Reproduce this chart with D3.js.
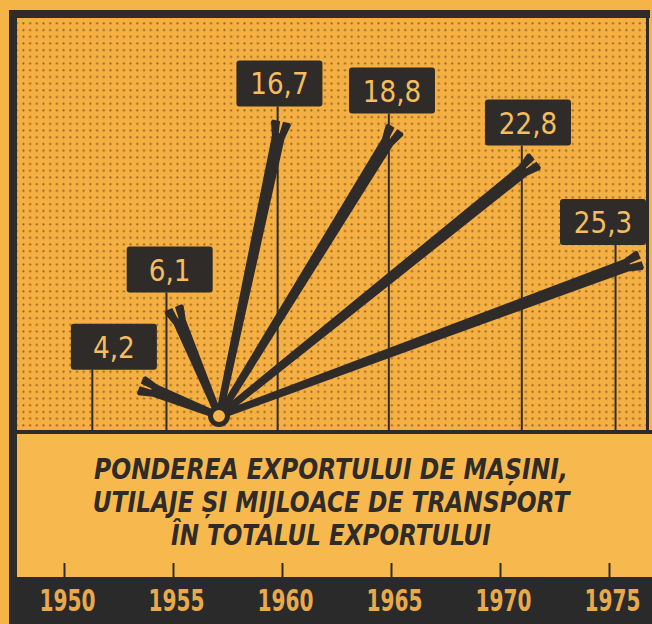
<!DOCTYPE html>
<html>
<head>
<meta charset="utf-8">
<script src="https://cdn.jsdelivr.net/npm/d3@7"></script>
<style>
  html, body { margin: 0; padding: 0; background: #f5b446; }
  svg { display: block; }
</style>
</head>
<body>
<div id="chart"></div>
<script>
// Share of machinery exports in total exports (%)
const years = [1950, 1955, 1960, 1965, 1970, 1975];
const shares = [4.2, 6.1, 16.7, 18.8, 22.8, 25.3];
const shareLabels = ["4,2", "6,1", "16,7", "18,8", "22,8", "25,3"];
// where each marker stands on the time axis, as drawn
const markYears = [1951.3, 1954.7, 1959.8, 1964.9, 1971.0, 1975.3];
// direction of each ray from the hub, degrees
const rayAngles = [158.4, 112.7, 78.0, 58.4, 38.9, 20.3];
const titleLines = [
    "PONDEREA EXPORTULUI DE MAȘINI,",
    "UTILAJE ȘI MIJLOACE DE TRANSPORT",
    "ÎN TOTALUL EXPORTULUI"
];

const W = 652, H = 624;
const dark = "#2e2b29";
const orange = "#f5b446";
const panel = { left: 17, top: 18, right: 646, bottom: 431 };
const hub = { x: 219, y: 416 };
const bandTop = 577;

const svg = d3.select("#chart")
    .append("svg")
    .attr("width", W)
    .attr("height", H);

// squeeze a text horizontally to a given width (condensed lettering)
function squeeze(sel, width, dx) {
    sel.each(function(d, i) {
        const t = d3.select(this);
        const w = this.getComputedTextLength();
        const target = typeof width === "function" ? width(d, i) : width;
        const s = Math.min(1, target / w);
        t.attr("transform", `translate(${dx || 0},0) scale(${s},1)`);
    });
}

// halftone dots
const defs = svg.append("defs");
const pat = defs.append("pattern")
    .attr("id", "dots")
    .attr("patternUnits", "userSpaceOnUse")
    .attr("width", 6.7)
    .attr("height", 6.7);
pat.append("circle")
    .attr("cx", 3.3).attr("cy", 3.3).attr("r", 1.1)
    .attr("fill", "#6e3f12")
    .attr("opacity", 0.72);

svg.append("rect").attr("width", W).attr("height", H).attr("fill", orange);

// upper panel
svg.append("rect")
    .attr("x", panel.left).attr("y", panel.top)
    .attr("width", panel.right - panel.left).attr("height", panel.bottom - panel.top)
    .attr("fill", "#f5b043");
svg.append("rect")
    .attr("x", panel.left).attr("y", panel.top)
    .attr("width", panel.right - panel.left).attr("height", panel.bottom - panel.top)
    .attr("fill", "url(#dots)");

// title area
svg.append("rect")
    .attr("x", panel.left).attr("y", panel.bottom + 3)
    .attr("width", W - panel.left).attr("height", bandTop - panel.bottom - 3)
    .attr("fill", "#f7b94e");

// frame
svg.append("rect").attr("x", 9).attr("y", 10).attr("width", 641).attr("height", 8).attr("fill", dark);
svg.append("rect").attr("x", 9).attr("y", 10).attr("width", 8).attr("height", H - 10).attr("fill", dark);
svg.append("rect").attr("x", panel.right).attr("y", 10).attr("width", 3).attr("height", panel.bottom - 8).attr("fill", dark);
svg.append("rect").attr("x", panel.left).attr("y", panel.bottom - 1).attr("width", W - panel.left).attr("height", 4).attr("fill", dark);

const x = d3.scaleLinear().domain([1950, 1975]).range([64, 609]);
const len = d3.scaleLinear().domain([0, 25.3]).range([12, 450]);

const items = shares.map((v, i) => {
    const a = rayAngles[i] * Math.PI / 180;
    const L = len(v);
    return {
        value: v,
        label: shareLabels[i],
        lx: x(markYears[i]),
        angle: rayAngles[i],
        L: L,
        tipX: hub.x + L * Math.cos(a),
        tipY: hub.y - L * Math.sin(a)
    };
});

const boxW = 86, boxH = 46;
items.forEach(d => {
    let cx = d.lx + 0.45 * (d.tipX - d.lx);
    d.bx = Math.min(cx - boxW / 2, panel.right - boxW);
    d.by = d.tipY - 15 - boxH;
});

// leader lines
svg.append("g")
    .selectAll("line")
    .data(items)
    .join("line")
    .attr("x1", d => d.lx).attr("x2", d => d.lx)
    .attr("y1", d => d.by + boxH).attr("y2", panel.bottom)
    .attr("stroke", dark)
    .attr("stroke-width", 2);

// rays with forked ends
function rayPath(L) {
    const p = [
        [0, -3.5], [L - 16, -6.5], [L - 2, -10.5], [L, -9],
        [L, -1.5], [L - 12, -0.5], [L - 12, 0.5], [L, 1.5],
        [L, 8.5], [L - 2, 10], [L - 16, 6.5], [0, 3.5]
    ];
    return d3.line()(p) + "Z";
}

svg.append("g")
    .selectAll("path")
    .data(items)
    .join("path")
    .attr("transform", d => `translate(${hub.x},${hub.y}) rotate(${-d.angle})`)
    .attr("d", d => rayPath(d.L))
    .attr("fill", dark);

svg.append("circle")
    .attr("cx", hub.x).attr("cy", hub.y).attr("r", 8.5)
    .attr("fill", "#f6b54a")
    .attr("stroke", dark)
    .attr("stroke-width", 5);

// value boxes
const boxes = svg.append("g")
    .selectAll("g")
    .data(items)
    .join("g")
    .attr("transform", d => `translate(${d.bx},${d.by})`);

boxes.append("rect")
    .attr("width", boxW).attr("height", boxH)
    .attr("rx", 3)
    .attr("fill", dark);

boxes.append("g")
    .attr("transform", `translate(${boxW / 2},34)`)
    .append("text")
    .attr("text-anchor", "middle")
    .attr("font-family", "DejaVu Sans, sans-serif")
    .attr("font-size", 30)
    .attr("fill", "#f5bd5e")
    .text(d => d.label)
    .call(squeeze, d => d.label.replace(",", "").length * 16.5 + 9);

// title
const titleWidths = [474, 477, 320];
svg.append("g")
    .selectAll("g")
    .data(titleLines)
    .join("g")
    .attr("transform", (d, i) => `translate(331,${479 + i * 33})`)
    .append("text")
    .attr("text-anchor", "middle")
    .attr("font-family", "DejaVu Sans, sans-serif")
    .attr("font-style", "italic")
    .attr("font-weight", "bold")
    .attr("font-size", 29)
    .attr("fill", dark)
    .text(d => d)
    .call(squeeze, (d, i) => titleWidths[i]);

// bottom band with years
svg.append("rect")
    .attr("x", 12).attr("y", bandTop)
    .attr("width", W - 12).attr("height", H - bandTop)
    .attr("fill", "#2b2a2b");

const axis = svg.append("g")
    .attr("transform", `translate(0,${bandTop})`)
    .call(d3.axisBottom(x)
        .tickValues(years)
        .tickFormat(d3.format("d"))
        .tickSizeInner(-14)
        .tickSizeOuter(0)
        .tickPadding(13));

axis.select(".domain").remove();
axis.selectAll(".tick line")
    .attr("stroke", dark)
    .attr("stroke-width", 2);
axis.selectAll(".tick text")
    .attr("font-family", "DejaVu Sans, sans-serif")
    .attr("font-weight", "bold")
    .attr("font-size", 30)
    .attr("fill", "#e9aa4c")
    .call(squeeze, 56, 3);
</script>
</body>
</html>
